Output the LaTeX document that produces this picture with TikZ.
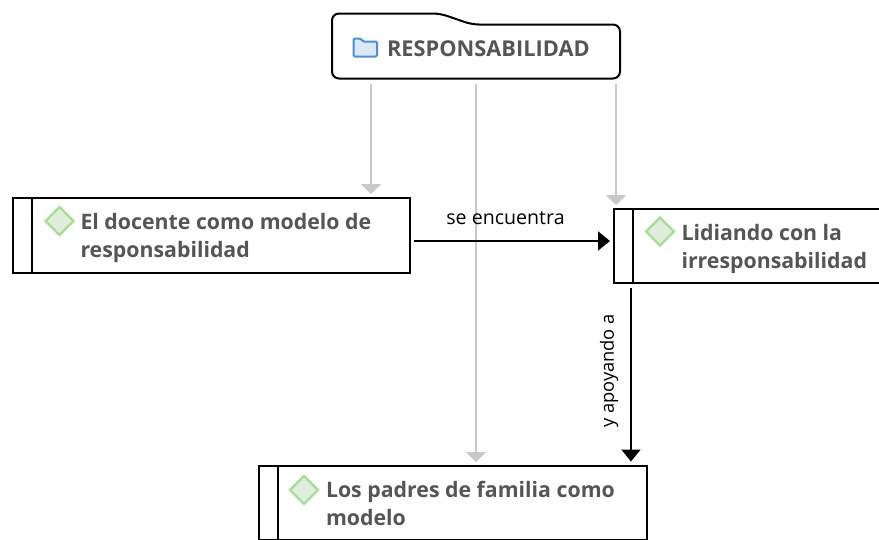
\documentclass[tikz,border=0pt]{standalone}
\usepackage{fontspec}
\setmainfont{Open Sans}
\newfontfamily\conceptfont{Open Sans}
\usetikzlibrary{positioning,shapes.geometric,arrows.meta}
\definecolor{inktext}{HTML}{555555}
\definecolor{softgray}{HTML}{C8C8C8}
\definecolor{markline}{HTML}{A8DC9A}
\definecolor{markfill}{HTML}{DFEEDB}
\definecolor{folderline}{HTML}{4A90D9}
\definecolor{folderfill}{HTML}{DCE8F5}
\tikzset{
  every node/.append style={outer sep=0pt},
  concept box/.style={draw=black, line width=2pt, minimum height=74pt, inner sep=0pt},
  concept mark/.style={diamond, draw=markline, fill=markfill, line width=2.2pt, minimum width=28pt, minimum height=28pt, inner sep=0pt},
  concept text/.style={font=\conceptfont\bfseries\fontsize{21.3}{28}\selectfont, text=inktext, align=left, inner sep=0pt, anchor=north west},
  soft arrow/.style={draw=softgray, line width=2pt, -{Triangle[width=20pt,length=10pt]}},
  hard arrow/.style={draw=black, line width=2pt, -{Triangle[width=19pt,length=12pt]}},
  link label/.style={text=black, inner sep=0pt},
}
\begin{document}
\begin{tikzpicture}[x=1pt,y=-1pt]
\useasboundingbox (0,0) rectangle (879,539);
\clip (0,0) rectangle (879,539);
%the nodes
\node [minimum width=288pt, minimum height=65pt, inner sep=0pt] (root) at (476,46) {};
\node [concept box, minimum width=397pt, minimum height=75pt, anchor=north west] (docente) at (13,198) {};
\node [concept box, minimum width=290pt, anchor=north west] (lidiando) at (614,209) {};
\node [concept box, minimum width=388pt, anchor=north west] (padres) at (259,466) {};
%root outline and folder
\draw[line width=2pt, rounded corners=7pt] (root.south west) -- (root.north west) -- ++(108,0) -- ++(32,11) -- ([yshift=-11pt]root.north east) -- (root.south east) -- cycle;
\node [concept text, font=\conceptfont\bfseries\fontsize{21.8}{28}\selectfont, anchor=west] (roottext) at ([xshift=55pt,yshift=-3pt]root.west) {RESPONSABILIDAD};
\draw[draw=folderline, fill=folderfill, line width=2pt, rounded corners=1.2pt] (353.5,56.5) -- (353.5,38.7) -- (361,38.7) -- (363,41.5) -- (377,41.5) -- (377,56.5) -- cycle;
%stripes
\draw[line width=2pt] ([xshift=19pt]docente.north west) -- ([xshift=19pt]docente.south west);
\draw[line width=2pt] ([xshift=19pt]lidiando.north west) -- ([xshift=19pt]lidiando.south west);
\draw[line width=2pt] ([xshift=19pt]padres.north west) -- ([xshift=19pt]padres.south west);
%marks and texts
\node [concept mark] (docentemark) at ([shift={(46.5,23)}]docente.north west) {};
\node [concept mark] (lidiandomark) at ([shift={(46,22.5)}]lidiando.north west) {};
\node [concept mark] (padresmark) at ([shift={(45,24)}]padres.north west) {};
\node [concept text] (docentetext) at ([shift={(67.5,15)}]docente.north west) {El docente como modelo de\\responsabilidad};
\node [concept text] (lidiandotext) at ([shift={(67.5,15)}]lidiando.north west) {Lidiando con la\\irresponsabilidad};
\node [concept text] (padrestext) at ([shift={(67,15)}]padres.north west) {Los padres de familia como\\modelo};
%drawings of vectors
\draw[soft arrow, shorten <=5pt, shorten >=4pt] ([xshift=39pt]root.south west) -- ([xshift=358pt]docente.north west);
\draw[soft arrow, shorten <=5pt, shorten >=4pt] (root.south) -- ([xshift=217pt]padres.north west);
\draw[soft arrow, shorten <=5pt, shorten >=4pt] ([xshift=-4pt]root.south east) -- ([xshift=2pt]lidiando.north west);
\draw[hard arrow, shorten <=4pt, shorten >=4pt] ([yshift=-5.5pt]docente.east) -- ([yshift=5pt]lidiando.west);
\draw[hard arrow, shorten <=5pt, shorten >=4.5pt] ([xshift=17pt]lidiando.south west) -- ([xshift=372pt]padres.north west);
%link labels
\node [link label, font=\fontsize{19.6}{22}\selectfont] (encuentra) at (505.5,218) {se encuentra};
\node [link label, font=\fontsize{18.3}{22}\selectfont, rotate=90] (apoyando) at (609,371) {y apoyando a};
\end{tikzpicture}
\end{document}
